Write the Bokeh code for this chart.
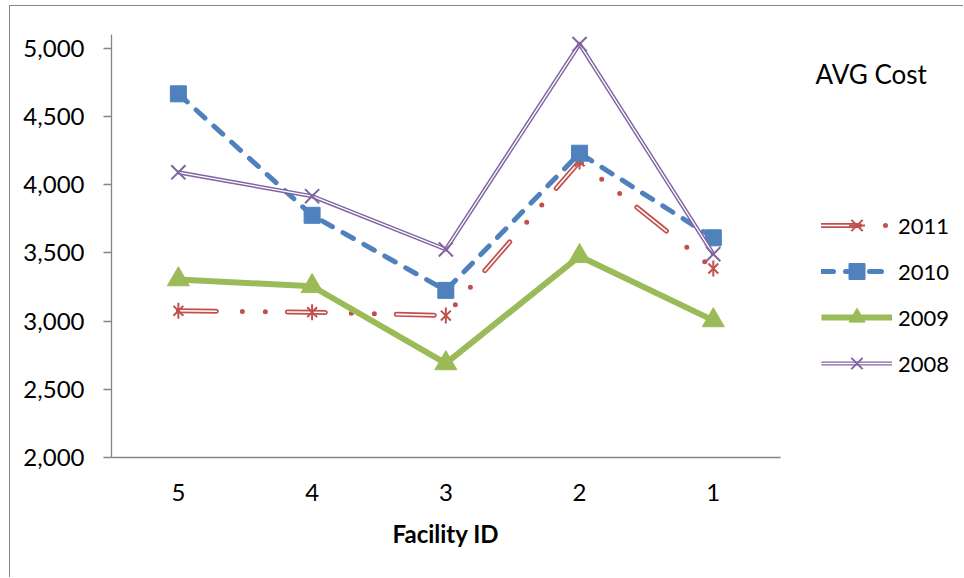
from bokeh.plotting import figure
from bokeh.models import (Legend, LegendItem, Label, Title, FixedTicker,
                          NumeralTickFormatter, Range1d)
from bokeh.embed import file_html
from bokeh.resources import INLINE

# ---- data ----
facilities = ["5", "4", "3", "2", "1"]
cost_2011 = [3075, 3065, 3040, 4170, 3385]
cost_2010 = [4665, 3775, 3225, 4230, 3610]
cost_2009 = [3305, 3255, 2690, 3475, 3005]
cost_2008 = [4090, 3915, 3525, 5030, 3490]
y_ticks = [2000, 2500, 3000, 3500, 4000, 4500, 5000]
series_labels = ["2011", "2010", "2009", "2008"]
chart_title = "AVG Cost"
x_title = "Facility ID"

RED = "#C0504D"
BLUE = "#4F81BD"
GREEN = "#9BBB59"
PURPLE = "#8064A2"
GRAY = "#868686"
FONT = "Lato"
FS = "24px"

# category positions on the x scale (one slot per facility)
xpos = list(range(len(facilities)))
n = len(facilities)

p = figure(width=953, height=571,
           x_range=Range1d(-0.5, -0.5 + n * 851.5 / 667.5),
           y_range=(2000, 5100),
           output_backend="svg", toolbar_location=None,
           min_border_left=101, min_border_right=0, min_border_top=28,
           min_border_bottom=121,
           styles={"border-left": "1.5px solid #868686",
                   "border-top": "1.5px solid #868686",
                   "box-sizing": "content-box",
                   "margin-left": "9px", "margin-top": "5px"})
p.outline_line_color = None
p.grid.grid_line_color = None
p.background_fill_color = "white"
p.border_fill_color = "white"

# y axis
ya = p.yaxis[0]
ya.ticker = FixedTicker(ticks=y_ticks)
ya.formatter = NumeralTickFormatter(format="0,0")
ya.axis_line_color = GRAY
ya.axis_line_width = 1.3
ya.major_tick_line_color = GRAY
ya.major_tick_line_width = 1.3
ya.major_tick_out = 8
ya.major_tick_in = 0
ya.minor_tick_line_color = None
ya.major_label_standoff = 19
ya.major_label_text_font = FONT
ya.major_label_text_font_size = FS
ya.major_label_text_color = "black"

# x axis (categorical slots)
xa = p.xaxis[0]
xa.ticker = FixedTicker(ticks=xpos)
xa.major_label_overrides = {i: f for i, f in zip(xpos, facilities)}
xa.bounds = (-0.5, n - 0.5)
xa.axis_line_color = GRAY
xa.axis_line_width = 1.3
xa.major_tick_line_color = None
xa.minor_tick_line_color = None
xa.major_tick_out = 0
xa.major_label_standoff = 26
xa.major_label_text_font = FONT
xa.major_label_text_font_size = FS
xa.major_label_text_color = "black"

# axis title, centred under the category slots
xt = Title(text=x_title, align="left", offset=281, standoff=26,
           text_font=FONT, text_font_style="bold", text_font_size=FS,
           text_color="black")
p.add_layout(xt, "below")

# 2011: red compound long-dash-dot-dot with star markers
r11a = p.line(xpos, cost_2011, line_color=RED, line_width=5,
              line_dash="38 26 0 23 0 22", line_cap="round", line_join="round")
r11b = p.line(xpos, cost_2011, line_color="white", line_width=1.6,
              line_dash="38 71", line_cap="round", line_join="round")
r11c = p.scatter(xpos, cost_2011, marker="x", size=14, line_color=RED,
                 line_width=2)
r11d = p.scatter(xpos, cost_2011, marker="dash", angle=1.5708, size=16,
                 line_color=RED, line_width=2)

# 2010: blue dashed with squares
r10a = p.line(xpos, cost_2010, line_color=BLUE, line_width=5,
              line_dash="12 12", line_cap="round", line_join="round")
r10b = p.scatter(xpos, cost_2010, marker="square", size=16,
                 fill_color=BLUE, line_color=BLUE)

# 2009: green solid with triangles
r09a = p.line(xpos, cost_2009, line_color=GREEN, line_width=6,
              line_join="round")
r09b = p.scatter(xpos, cost_2009, marker="triangle", size=22,
                 fill_color=GREEN, line_color=GREEN)

# 2008: purple compound line with x markers
r08a = p.line(xpos, cost_2008, line_color=PURPLE, line_width=4.2,
              line_join="round")
r08b = p.line(xpos, cost_2008, line_color="white", line_width=1.3,
              line_join="round")
r08c = p.scatter(xpos, cost_2008, marker="x", size=20, line_color=PURPLE,
                 line_width=2)

legend = Legend(items=[
    LegendItem(label=series_labels[0], renderers=[r11a, r11b, r11c, r11d]),
    LegendItem(label=series_labels[1], renderers=[r10a, r10b]),
    LegendItem(label=series_labels[2], renderers=[r09a, r09b]),
    LegendItem(label=series_labels[3], renderers=[r08a, r08b, r08c]),
], location=(710, 74))
legend.glyph_width = 71
legend.glyph_height = 40
legend.label_height = 20
legend.spacing = 6
legend.padding = 0
legend.margin = 0
legend.label_standoff = 6
legend.border_line_color = None
legend.background_fill_alpha = 0
legend.label_text_font = FONT
legend.label_text_font_size = "22px"
legend.label_text_color = "black"
p.add_layout(legend, "center")

title = Label(x=704, y=384, x_units="screen", y_units="screen",
              text=chart_title, text_font=FONT, text_font_size="26px",
              text_color="black", text_baseline="middle", text_align="left")
p.add_layout(title)

open("out.html", "w").write(file_html(p, INLINE))
